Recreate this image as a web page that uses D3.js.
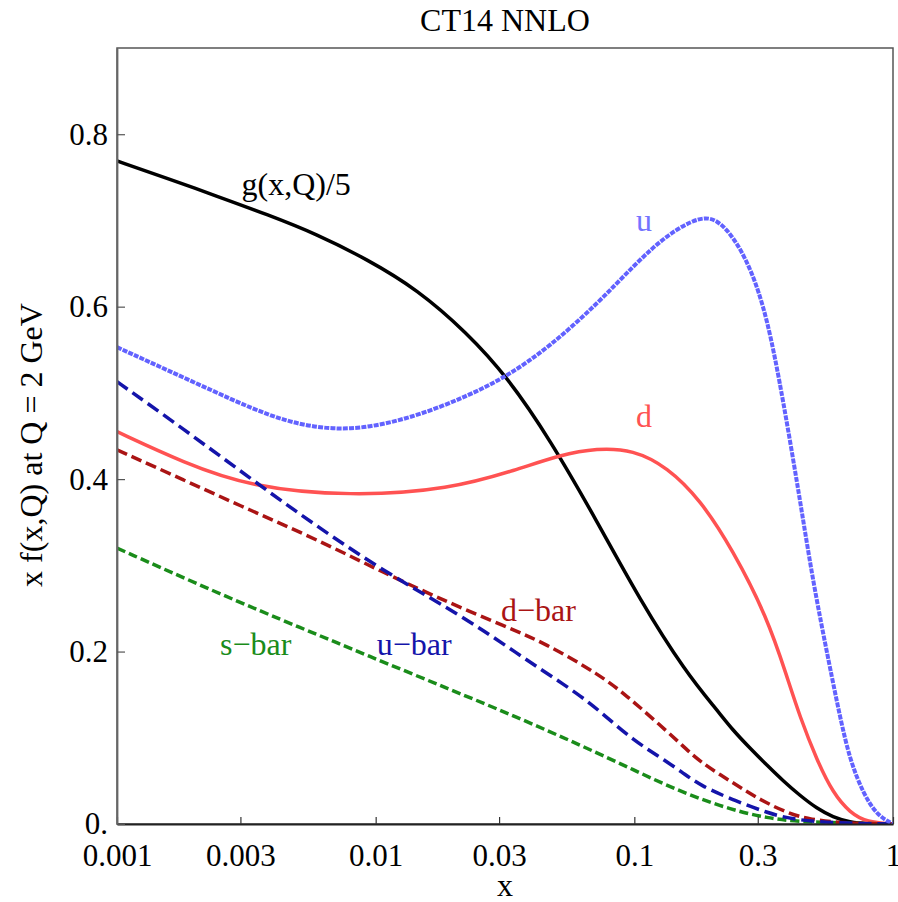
<!DOCTYPE html>
<html>
<head>
<meta charset="utf-8">
<script src="https://cdn.jsdelivr.net/npm/d3@7"></script>
<style>
  body { margin: 0; background: #fff; }
  svg text { font-family: "Liberation Serif", "DejaVu Serif", serif; }
</style>
</head>
<body>
<div id="chart"></div>
<script>
/////////////////////////////////////
///      DATA
/////////////////////////////////////
var xTicks = [0.001, 0.003, 0.01, 0.03, 0.1, 0.3, 1];
var xTickLabels = ["0.001", "0.003", "0.01", "0.03", "0.1", "0.3", "1"];
var yTicks = [0, 0.2, 0.4, 0.6, 0.8];
var yTickLabels = ["0.", "0.2", "0.4", "0.6", "0.8"];

// g(x,Q)/5
var gluonX = [0.001, 0.00156, 0.00244, 0.0038, 0.00593, 0.00926, 0.0145, 0.0225, 0.0322, 0.0472, 0.0718, 0.105, 0.158, 0.209, 0.24, 0.28, 0.326, 0.376, 0.437, 0.508, 0.586, 0.682, 0.794, 1];
var gluonY = [0.769, 0.749, 0.728, 0.707, 0.684, 0.655, 0.620, 0.570, 0.519, 0.446, 0.351, 0.26, 0.176, 0.132, 0.109, 0.088, 0.068, 0.050, 0.033, 0.018, 0.008, 0.002, 0.0003, 0];

var uX = [0.001, 0.00244, 0.00443, 0.008, 0.0145, 0.0225, 0.0322, 0.0472, 0.0718, 0.0989, 0.134, 0.18, 0.209, 0.24, 0.28, 0.326, 0.376, 0.437, 0.491, 0.57, 0.624, 0.682, 0.766, 0.867, 1];
var uY = [0.553, 0.500, 0.465, 0.454, 0.473, 0.496, 0.519, 0.554, 0.603, 0.647, 0.684, 0.705, 0.701, 0.682, 0.647, 0.589, 0.492, 0.376, 0.28, 0.182, 0.124, 0.074, 0.036, 0.01, 0];

var dX = [0.001, 0.00181, 0.00327, 0.008, 0.0194, 0.0352, 0.0516, 0.0718, 0.099, 0.134, 0.18, 0.24, 0.326, 0.389, 0.437, 0.508, 0.586, 0.682, 0.794, 1];
var dY = [0.455, 0.419, 0.391, 0.380, 0.388, 0.411, 0.428, 0.436, 0.434, 0.414, 0.376, 0.318, 0.240, 0.171, 0.124, 0.074, 0.036, 0.013, 0.002, 0];

var ubarX = [0.001, 0.00181, 0.00327, 0.00593, 0.0108, 0.0194, 0.0262, 0.0352, 0.0432, 0.0634, 0.078, 0.099, 0.122, 0.155, 0.179, 0.24, 0.326, 0.41, 0.6, 1];
var ubarY = [0.513, 0.458, 0.401, 0.345, 0.293, 0.249, 0.224, 0.198, 0.180, 0.147, 0.124, 0.0975, 0.080, 0.059, 0.045, 0.028, 0.013, 0.005, 0.001, 0];

var dbarX = [0.001, 0.00181, 0.00327, 0.00593, 0.0108, 0.0194, 0.0313, 0.045, 0.0736, 0.094, 0.118, 0.15, 0.179, 0.24, 0.306, 0.389, 0.478, 0.65, 1];
var dbarY = [0.434, 0.399, 0.364, 0.330, 0.291, 0.256, 0.230, 0.21, 0.173, 0.148, 0.122, 0.094, 0.072, 0.048, 0.028, 0.013, 0.005, 0.001, 0];

var sbarX = [0.001, 0.00244, 0.00528, 0.0092, 0.0194, 0.0352, 0.0634, 0.099, 0.154, 0.24, 0.326, 0.437, 1];
var sbarY = [0.320, 0.268, 0.226, 0.196, 0.156, 0.124, 0.090, 0.063, 0.036, 0.016, 0.007, 0.002, 0];

/////////////////////////////////////
///      LAYOUT
/////////////////////////////////////
var W = 898, H = 902;
var margin = {left: 117, right: 5, top: 48, bottom: 78};
var pw = W - margin.left - margin.right;
var ph = H - margin.top - margin.bottom;

var x = d3.scaleLog().domain([0.001, 1]).range([0, pw]);
var y = d3.scaleLinear().domain([0, 0.9]).range([ph, 0]);

var series = [
  {name: "gluon", xs: gluonX, ys: gluonY, color: "#000000", width: 3.5, dash: null},
  {name: "d", xs: dX, ys: dY, color: "#ff5252", width: 3.5, dash: null},
  {name: "sbar", xs: sbarX, ys: sbarY, color: "#1a8c1a", width: 3.5, dash: "9,4"},
  {name: "dbar", xs: dbarX, ys: dbarY, color: "#aa1414", width: 3.5, dash: "11,5"},
  {name: "ubar", xs: ubarX, ys: ubarY, color: "#1414aa", width: 3.5, dash: "13,6"},
  {name: "u", xs: uX, ys: uY, color: "#6262ff", width: 4, dash: "5,1.2"}
];

var labels = [
  {text: "g(x,Q)/5", x: 0.00493, y: 0.73, color: "#000000"},
  {text: "u", x: 0.109, y: 0.688, color: "#7474ff"},
  {text: "d", x: 0.109, y: 0.461, color: "#ff5252"},
  {text: "d\u2212bar", x: 0.0426, y: 0.235, color: "#aa1414"},
  {text: "u\u2212bar", x: 0.0141, y: 0.196, color: "#1414aa"},
  {text: "s\u2212bar", x: 0.00344, y: 0.196, color: "#1a8c1a"}
];

var svg = d3.select("#chart").append("svg")
  .attr("width", W)
  .attr("height", H);

var g = svg.append("g")
  .attr("transform", "translate(" + margin.left + "," + margin.top + ")");

g.append("defs").append("clipPath").attr("id", "clip")
  .append("rect").attr("width", pw).attr("height", ph);

// frame
g.append("rect")
  .attr("width", pw)
  .attr("height", ph)
  .attr("fill", "none")
  .attr("stroke", "#555")
  .attr("stroke-width", 1.5);

var line = d3.line()
  .x(function(d){ return x(d[0]); })
  .y(function(d){ return y(d[1]); })
  .curve(d3.curveBasis);

series.forEach(function(s){
  var pts = s.xs.map(function(v, i){ return [v, s.ys[i]]; });
  g.append("path")
    .datum(pts)
    .attr("clip-path", "url(#clip)")
    .attr("fill", "none")
    .attr("stroke", s.color)
    .attr("stroke-width", s.width)
    .attr("stroke-dasharray", s.dash)
    .attr("d", line);
});

/////////////////////////////////////
///      AXES
/////////////////////////////////////
var xAxis = d3.axisBottom(x)
  .tickValues(xTicks)
  .tickFormat(function(d, i){ return xTickLabels[i]; })
  .tickSizeInner(-7)
  .tickSizeOuter(0)
  .tickPadding(20);

var yAxis = d3.axisLeft(y)
  .tickValues(yTicks)
  .tickFormat(function(d, i){ return yTickLabels[i]; })
  .tickSizeInner(-8)
  .tickSizeOuter(0)
  .tickPadding(9);

var gx = g.append("g").attr("transform", "translate(0," + ph + ")").call(xAxis);
var gy = g.append("g").call(yAxis);

gx.select(".domain").attr("stroke", "#222").attr("stroke-width", 1.8);
gy.select(".domain").attr("stroke", "#666").attr("stroke-width", 1.8);
gx.selectAll(".tick line").attr("stroke", "#333").attr("stroke-width", 1.2);
gy.selectAll(".tick line").attr("stroke", "#555").attr("stroke-width", 1.2);
svg.selectAll(".tick text")
  .attr("fill", "#000")
  .style("font-family", '"Liberation Serif", serif')
  .style("font-size", "31px");

// curve labels
g.selectAll("text.lbl")
  .data(labels)
  .enter().append("text")
  .attr("class", "lbl")
  .attr("x", function(d){ return x(d.x); })
  .attr("y", function(d){ return y(d.y); })
  .attr("text-anchor", "middle")
  .attr("fill", function(d){ return d.color; })
  .style("font-size", "32px")
  .text(function(d){ return d.text; });

// titles
svg.append("text")
  .attr("x", margin.left + pw / 2)
  .attr("y", 31)
  .attr("text-anchor", "middle")
  .style("font-size", "32px")
  .text("CT14 NNLO");

svg.append("text")
  .attr("x", margin.left + pw / 2)
  .attr("y", 896)
  .attr("text-anchor", "middle")
  .style("font-size", "32px")
  .text("x");

svg.append("text")
  .attr("transform", "translate(42," + 445 + ") rotate(-90)")
  .attr("text-anchor", "middle")
  .style("font-size", "32px")
  .text("x f(x,Q) at Q = 2 GeV");
</script>
</body>
</html>
